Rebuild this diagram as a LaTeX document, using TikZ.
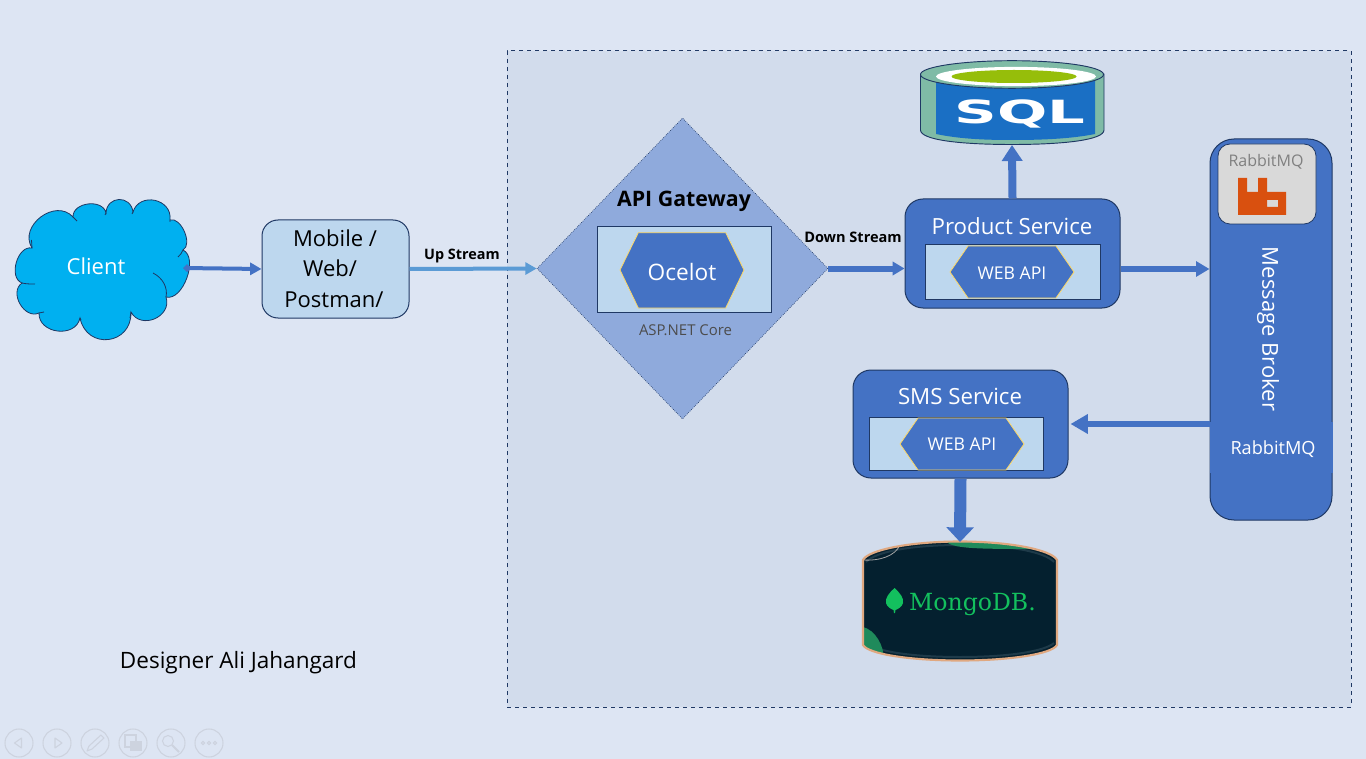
\documentclass[tikz,border=0pt]{standalone}
\usepackage{fontspec}
\setmainfont{Open Sans}
\newfontfamily\serifd{DejaVu Serif}
\newfontfamily\sansd{DejaVu Sans}
\usetikzlibrary{arrows.meta,shapes.geometric,calc}
\definecolor{bgc}{HTML}{DDE5F3}
\definecolor{panel}{HTML}{D2DCEC}
\definecolor{navy}{HTML}{1F3864}
\definecolor{blue}{HTML}{4472C4}
\definecolor{pale}{HTML}{BDD7EE}
\definecolor{gwc}{HTML}{8FAADC}
\definecolor{sky}{HTML}{00B0F0}
\definecolor{upc}{HTML}{5B9BD5}
\definecolor{hexl}{HTML}{FFD966}
\definecolor{teal}{HTML}{7FBBA6}
\definecolor{sqlb}{HTML}{1A6FC4}
\definecolor{sqlg}{HTML}{96BE0A}
\definecolor{leafg}{HTML}{13C05E}
\definecolor{mdark}{HTML}{04202F}
\definecolor{mgreen}{HTML}{1F8A5B}
\definecolor{mrim}{HTML}{E0A880}
\definecolor{mbevel}{HTML}{1E3A49}
\definecolor{rorange}{HTML}{D9500F}
\definecolor{ctl}{HTML}{CDD3DF}
\newcommand{\fs}[1]{\fontsize{#1}{#1}\selectfont}
\tikzset{
  x=0.75pt,y=-0.75pt,
  service/.style={draw=navy,fill=blue,rounded corners=13.5pt,inner sep=0pt,line width=0.75pt},
  inner/.style={draw=navy,fill=pale,inner sep=0pt,line width=0.75pt},
  hexa/.style={fill=blue,draw=hexl,line width=0.6pt},
  wtext/.style={text=white,inner sep=0pt},
  ctlring/.style={draw=ctl,line width=0.8pt},
  flow/.style={draw=blue,line width=#1},
  flow/.default=3pt,
  lobe/.style={bend left=85,looseness=#1}
}
\begin{document}
\begin{tikzpicture}
\useasboundingbox (0,0) rectangle (1366,759);
\fill[bgc] (0,0) rectangle (1366,759);
% panel
\node[draw=navy,fill=panel,dashed,line width=0.75pt,inner sep=0pt,minimum width={844*0.75pt},minimum height={656*0.75pt}] (panel) at (929,379) {};
% cloud
\path[fill=sky,draw=navy,line width=0.6pt]
 (32,248) to[lobe=1.3] (73,217)
 to[lobe=1.15] (106,213)
 to[lobe=1.65] (133,212)
 to[lobe=1.45] (170,220)
 to[lobe=0.9] (183,250)
 to[lobe=0.9] (166,297)
 to[lobe=1.4] (131,312)
 to[lobe=1.65] (80,318)
 to[lobe=1.3] (39,313)
 to[lobe=1.2] (22,283)
 to[lobe=1.05] cycle;
\draw[navy,line width=0.6pt]
 (153,273) .. controls (163,278) and (168,288) .. (166,297)
 (183,250) .. controls (182,253) and (180,255) .. (178,257)
 (131,312) -- (130,318)
 (80,318) -- (81,320)
 (39,313) -- (44,312)
 (22,283) .. controls (26,284) and (30,284) .. (35,284)
 (32,248) -- (31.5,240)
 (73,217) -- (77,221)
 (106,213) -- (105,215)
 (133,212) -- (132,214)
 (170,220) -- (170,222);
\node[wtext,font=\fs{16.5}] (client) at (96,266) {Client};
\coordinate (cloudE) at (183,268);
% mobile
\node[service,fill=pale,rounded corners=12pt,minimum width={147*0.75pt},minimum height={98*0.75pt}] (mobile) at (335.5,269) {};
\node[inner sep=0pt,font=\fs{16.5}] (m1) at (335,238) {Mobile /};
\node[inner sep=0pt,font=\fs{16.5}] (m2) at (330,268) {Web/};
\node[inner sep=0pt,font=\fs{16.5}] (m3) at (334,300) {Postman/};
% gateway
\node[diamond,aspect=0.97,draw=navy,densely dotted,fill=gwc,line width=0.5pt,inner sep=0pt,minimum width={291*0.75pt},minimum height={301*0.75pt}] (gw) at (682.5,268.5) {};
\node[inner sep=0pt,font=\bfseries\fs{16}] (gwt) at (684,201) {API Gateway};
\node[inner,minimum width={174*0.75pt},minimum height={85*0.75pt}] (gwi) at (684,269.5) {};
\path[hexa] (620,270) -- (638.3,232.7) -- (725.7,232.7) -- (744,270) -- (725.7,308) -- (638.3,308) -- cycle;
\node[wtext,font=\fs{17}] (oce) at (682,271.5) {Ocelot};
\node[inner sep=0pt,text=black!70,font=\fs{11.2}] (asp) at (685.5,330.5) {ASP.NET Core};
% product
\node[service,minimum width={215*0.75pt},minimum height={109*0.75pt}] (prod) at (1012.5,253.5) {};
\node[wtext,font=\fs{16.7}] (prodt) at (1012,226) {Product Service};
\node[inner,minimum width={175*0.75pt},minimum height={54*0.75pt}] (prodi) at (1012.5,272) {};
\path[hexa] (950,272) -- (968,246) -- (1056,246) -- (1074,272) -- (1056,298) -- (968,298) -- cycle;
\node[wtext,font=\fs{13.2}] (proda) at (1012,273) {WEB API};
% sms
\node[service,minimum width={215*0.75pt},minimum height={108*0.75pt}] (sms) at (960.5,424) {};
\node[wtext,font=\fs{16.7}] (smst) at (960,396.5) {SMS Service};
\node[inner,minimum width={174*0.75pt},minimum height={53*0.75pt}] (smsi) at (956,443.5) {};
\path[hexa] (900,444) -- (918,418) -- (1006,418) -- (1024,444) -- (1006,470) -- (918,470) -- cycle;
\node[wtext,font=\fs{13.2}] (smsa) at (962,444) {WEB API};
% broker
\node[service,rounded corners=18pt,minimum width={122*0.75pt},minimum height={381*0.75pt}] (broker) at (1271,329.5) {};
\fill[blue] (1210,422) rectangle (1333,473);
\node[draw=navy,fill=black!15,rounded corners=9pt,line width=0.6pt,inner sep=0pt,minimum width={98*0.75pt},minimum height={80*0.75pt}] (tile) at (1267,184) {};
\node[inner sep=0pt,text=black!50,font=\fs{12}] (rabt) at (1266,162) {RabbitMQ};
\path[fill=rorange,even odd rule] (1238,178) -- (1247,178) -- (1247,192) -- (1258,192) -- (1258,178) -- (1267,178) -- (1267,192) -- (1286,192) -- (1286,215) -- (1238,215) -- cycle
 (1267,200) rectangle (1278,207);
\node[wtext,rotate=-90,font=\fs{16.5}] (brokt) at (1268,329) {Message Broker};
\node[wtext,font=\fs{13.6}] (rabb) at (1273,449.5) {RabbitMQ};
% SQL
\path[fill=teal,draw=navy,line width=0.7pt] (920.5,74) -- (920.5,130) .. controls (920.5,140) and (960,144.5) .. (1012,144.5) .. controls (1064,144.5) and (1104,140) .. (1104,130) -- (1104,74) -- cycle;
\path[fill=sqlb] (936,80) -- (936,134) .. controls (960,139) and (985,140) .. (1012,140) .. controls (1040,140) and (1070,139) .. (1095,134) -- (1095,80) -- cycle;
\path[fill=teal,draw=navy,line width=0.7pt] (1012,74.5) ellipse [x radius=91.5,y radius=13.8];
\path[fill=white] (1016,76.5) ellipse [x radius=80,y radius=9.6];
\path[fill=sqlg] (1014,76.5) ellipse [x radius=62.5,y radius=6.5];
\node[wtext,font=\sansd\bfseries\fs{24},xscale=1.85] (sqlt) at (1020,113.5) {SQL};
\coordinate (sqlS) at (1012,145);
% Mongo
\path[fill=mdark] (863,560) .. controls (868,550) and (910,541.5) .. (960,541.5) .. controls (1010,541.5) and (1052,550) .. (1057,560) -- (1057,645) .. controls (1052,654) and (1010,660.5) .. (960,660.5) .. controls (910,660.5) and (868,654) .. (863,645) -- cycle;
\begin{scope}
\clip (863,560) .. controls (868,550) and (910,541.5) .. (960,541.5) .. controls (1010,541.5) and (1052,550) .. (1057,560) -- (1057,645) .. controls (1052,654) and (1010,660.5) .. (960,660.5) .. controls (910,660.5) and (868,654) .. (863,645) -- cycle;
\draw[mbevel,line width=1.5pt] (866,562) .. controls (875,552) and (910,545) .. (960,545) .. controls (1010,545) and (1045,552) .. (1054,562);
\draw[mbevel,line width=1.5pt] (866,643) .. controls (875,651) and (910,657) .. (960,657) .. controls (1010,657) and (1045,651) .. (1054,643);
\fill[mgreen] (946,542) .. controls (955,548) and (970,549) .. (1030,549) -- (1030,540) -- (946,540) -- cycle;
\fill[mgreen] (863,627) .. controls (875,630) and (884,645) .. (884,660) -- (863,660) -- cycle;
\draw[black!35,line width=0.6pt] (863,560) .. controls (880,561) and (895,556) .. (900,545);
\end{scope}
\path[draw=mrim,line width=1.6pt] (863,560) .. controls (868,550) and (910,541.5) .. (960,541.5) .. controls (1010,541.5) and (1052,550) .. (1057,560) -- (1057,645) .. controls (1052,654) and (1010,660.5) .. (960,660.5) .. controls (910,660.5) and (868,654) .. (863,645) -- cycle;
\path[fill=leafg] (894.5,588) .. controls (900,593) and (904,598) .. (903,603) .. controls (902,607) and (898,609) .. (895.5,610) -- (895,613) -- (894,613) -- (893.5,610) .. controls (891,609) and (887,607) .. (886,603) .. controls (885,598) and (889,593) .. (894.5,588) -- cycle;
\node[inner sep=0pt,text=leafg,font=\serifd\fs{17.7}] (mongot) at (972.5,604.5) {MongoDB.};
\coordinate (mongoN) at (960,542);
% connectors
\draw[flow=3pt,{Diamond[length=6pt,width=6pt]}-{Triangle[length=8.5pt,width=9pt]}] (cloudE) -- (mobile.west);
\draw[upc,line width=3pt,-{Triangle[length=8.5pt,width=9pt]}] (mobile.east) -- (gw.west);
\draw[flow=4.5pt,-{Triangle[length=9pt,width=10pt]}] (gw.east) -- (prod.west |- gw.east);
\draw[flow=4.5pt,-{Triangle[length=10pt,width=11pt]}] (prod.east |- mobile.east) -- (broker.west |- mobile.east);
\draw[flow=6pt,-{Triangle[length=12pt,width=15pt]}] (prod.north) -- (sqlS);
\draw[flow=4.5pt,-{Triangle[length=13pt,width=14pt]}] (broker.west |- sms.east) -- ([xshift=1.5pt]sms.east);
\draw[flow=9pt,-{Triangle[length=11pt,width=20pt]}] (sms.south) -- (mongoN);
% labels
\node[inner sep=0pt,font=\bfseries\fs{10.8}] (up) at (462,256.5) {Up Stream};
\node[inner sep=0pt,font=\bfseries\fs{10.9}] (down) at (853,237.5) {Down Stream};
\node[inner sep=0pt,font=\fs{16.9}] (des) at (238.5,663) {Designer Ali Jahangard};
% slideshow controls
\foreach \n/\cx in {c1/19,c2/57,c3/95,c4/133,c5/171,c6/209}{
  \node[circle,ctlring,inner sep=0pt,minimum size={28*0.75pt}] (\n) at (\cx,743) {};
}
\draw[ctlring,line join=round] (21.5,738) -- (14.5,743) -- (21.5,748) -- cycle;
\draw[ctlring,line join=round] (55,738) -- (62,743) -- (55,748) -- cycle;
\draw[ctlring,line join=round] (87,751) -- (89,746) -- (101,735) -- (104,738) -- (92,749) -- cycle;
\draw[ctlring] (125,735) rectangle (136,747);
\fill[ctl] (130,741) rectangle (142,751);
\draw[ctlring] (168,741) circle [radius=5.5];
\draw[ctl,line width=1.5pt] (172,745) -- (179,752);
\foreach \dx in {203,209,215}{ \draw[ctlring] (\dx,743) circle [radius=1.6]; }
\end{tikzpicture}
\end{document}
